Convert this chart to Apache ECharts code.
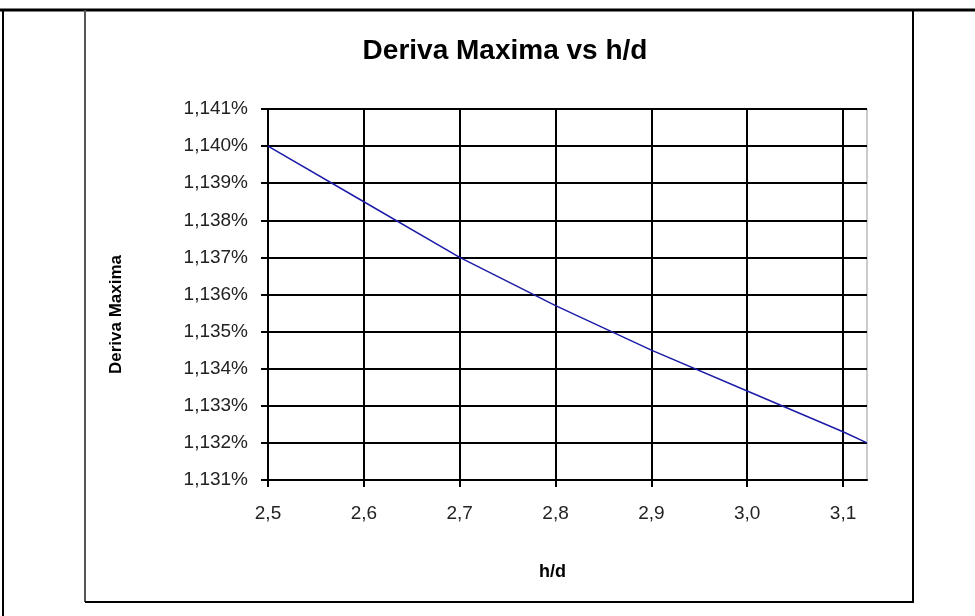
<!DOCTYPE html>
<html>
<head>
<meta charset="utf-8">
<title>Deriva Maxima vs h/d</title>
<script src="https://cdn.jsdelivr.net/npm/echarts@6/dist/echarts.min.js"></script>
<style>
  html, body { margin: 0; padding: 0; background: #fff; }
  #chart { width: 975px; height: 616px; }
</style>
</head>
<body>
<div id="chart"></div>
<script>
// h/d values and the max drift (percent)
var hd = [2.5, 2.6, 2.7, 2.8, 2.9, 3.0, 3.1, 3.125]
var deriva = [1.1400, 1.1385, 1.1370, 1.1357, 1.1345, 1.1334, 1.1323, 1.1320]
var xTicks = [2.5, 2.6, 2.7, 2.8, 2.9, 3.0, 3.1]

var font = "'Liberation Sans', Arial, sans-serif"

var chart = echarts.init(document.getElementById('chart'))
var option = {
  animation: false,
  backgroundColor: '#fff',
  title: {
    text: 'Deriva Maxima vs h/d',
    left: 500,
    textAlign: 'center',
    top: 32,
    textStyle: { fontFamily: font, fontSize: 28, fontWeight: 'bold', color: '#000' }
  },
  grid: {
    left: 268,
    right: 108,
    top: 109,
    bottom: 136,
    show: true,
    borderColor: '#999',
    borderWidth: 1
  },
  xAxis: {
    type: 'value',
    min: 2.5,
    max: 3.125,
    interval: 0.1,
    name: 'h/d',
    nameLocation: 'middle',
    nameGap: 83,
    nameTextStyle: { fontFamily: font, fontSize: 18, fontWeight: 'bold', color: '#000', padding: [0, 30, 0, 0] },
    axisLine: { lineStyle: { color: '#000', width: 2 } },
    axisTick: { show: true, length: 7, customValues: xTicks, lineStyle: { color: '#000', width: 2 } },
    axisLabel: {
      customValues: xTicks,
      margin: 24,
      fontFamily: font,
      fontSize: 19,
      color: '#222',
      formatter: function (v) { return v.toFixed(1).replace('.', ',') }
    },
    splitLine: { show: true, lineStyle: { color: '#000', width: 2 } }
  },
  yAxis: {
    type: 'value',
    min: 1.131,
    max: 1.141,
    interval: 0.001,
    name: 'Deriva Maxima',
    nameLocation: 'middle',
    nameGap: 143,
    nameRotate: 90,
    nameTextStyle: { fontFamily: font, fontSize: 17, fontWeight: 'bold', color: '#000', padding: [0, 40, 0, 0] },
    axisLine: { show: true, lineStyle: { color: '#000', width: 2 } },
    axisTick: { show: true, length: 7, lineStyle: { color: '#000', width: 2 } },
    axisLabel: {
      margin: 20,
      fontFamily: font,
      fontSize: 19,
      color: '#222',
      formatter: function (v) { return v.toFixed(3).replace('.', ',') + '%' }
    },
    splitLine: { show: true, lineStyle: { color: '#000', width: 2 } }
  },
  series: [
    {
      type: 'line',
      data: hd.map(function (x, i) { return [x, deriva[i]] }),
      showSymbol: false,
      lineStyle: { color: '#1c1ca8', width: 1.5 },
      z: 5
    }
  ],
  graphic: [
    // sheet border and chart frame
    { type: 'line', shape: { x1: 0, y1: 10, x2: 975, y2: 10 }, style: { stroke: '#000', lineWidth: 3 }, silent: true },
    { type: 'line', shape: { x1: 3, y1: 10, x2: 3, y2: 616 }, style: { stroke: '#000', lineWidth: 2 }, silent: true },
    { type: 'line', shape: { x1: 85, y1: 10, x2: 85, y2: 602 }, style: { stroke: '#555', lineWidth: 2 }, silent: true },
    { type: 'line', shape: { x1: 913, y1: 10, x2: 913, y2: 602 }, style: { stroke: '#000', lineWidth: 2 }, silent: true },
    { type: 'line', shape: { x1: 85, y1: 602, x2: 914, y2: 602 }, style: { stroke: '#000', lineWidth: 2 }, silent: true }
  ]
}
chart.setOption(option)
</script>
</body>
</html>
